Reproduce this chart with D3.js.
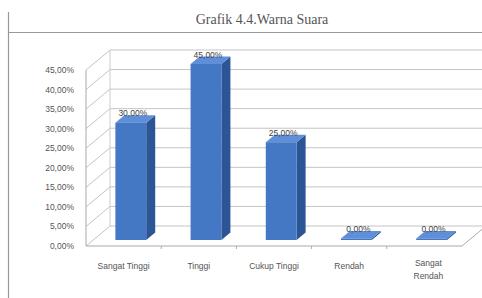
<!DOCTYPE html>
<html>
<head>
<meta charset="utf-8">
<script src="https://cdn.jsdelivr.net/npm/d3@7"></script>
<style>
body { margin: 0; background: #fff; }
.sans { font-family: "Liberation Sans", Arial, sans-serif; }
.serif { font-family: "Liberation Serif", "DejaVu Serif", serif; }
</style>
</head>
<body>
<svg id="chart" width="482" height="298"></svg>
<script>
var categories = ["Sangat Tinggi", "Tinggi", "Cukup Tinggi", "Rendah", "Sangat Rendah"];
var values = [30, 45, 25, 0, 0];
var valueLabels = ["30,00%", "45,00%", "25,00%", "0,00%", "0,00%"];
var yTicks = [0, 5, 10, 15, 20, 25, 30, 35, 40, 45];

// depth of the 3d box
var dx = 24, dy = -20;
var f0 = 0.3, f1 = 0.675;

var svg = d3.select("#chart");

// frame lines of the page
svg.append("line").attr("x1", 8.5).attr("y1", 12).attr("x2", 8.5).attr("y2", 298)
    .style("stroke", "#999").style("stroke-width", 1.2);
svg.append("line").attr("x1", 8).attr("y1", 32.5).attr("x2", 482).attr("y2", 32.5)
    .style("stroke", "#999").style("stroke-width", 1.2);
svg.append("text").attr("class", "serif").attr("x", 262).attr("y", 24).attr("text-anchor", "middle")
    .style("font-size", "14px").style("fill", "#555").text("Grafik 4.4.Warna Suara");

var y = d3.scaleLinear().domain([0, 45]).range([246, 70]);
var x = d3.scaleBand().domain(categories).range([86, 462]);

var grid = svg.append("g");
yTicks.forEach(function (t) {
    var yy = y(t);
    grid.append("polyline")
        .attr("points", [[86, yy], [86 + dx, yy + dy], [486, yy + dy]].map(function (p) { return p.join(","); }).join(" "))
        .style("fill", "none").style("stroke", "#c4c4c4").style("stroke-width", 1);
});
// left edges and floor
grid.append("line").attr("x1", 86).attr("y1", y(0)).attr("x2", 86).attr("y2", y(45))
    .style("stroke", "#aaa");
grid.append("line").attr("x1", 86 + dx).attr("y1", y(0) + dy).attr("x2", 86 + dx).attr("y2", y(45) + dy)
    .style("stroke", "#ccc");
grid.append("polyline")
    .attr("points", "86," + y(0) + " 462," + y(0) + " " + (462 + dx) + "," + (y(0) + dy))
    .style("fill", "none").style("stroke", "#aaa");

// ticks on the floor
categories.forEach(function (c, i) {
    if (i == 0) return;
    var xx = x(c);
    svg.append("line").attr("x1", xx).attr("y1", y(0)).attr("x2", xx).attr("y2", y(0) + 3)
        .style("stroke", "#aaa");
});

// y axis labels
yTicks.forEach(function (t) {
    svg.append("text").attr("class", "sans").attr("x", 74).attr("y", y(t) + 3).attr("text-anchor", "end")
        .style("font-size", "8.5px").style("fill", "#555")
        .text(t.toFixed(2).replace(".", ",") + "%");
});

// bars
var bw = x.bandwidth() * 0.41;
var bars = svg.append("g");
function pts(arr) { return arr.map(function (p) { return p[0] + "," + p[1]; }).join(" "); }
categories.forEach(function (c, i) {
    var cx = x(c) + x.bandwidth() / 2;
    var xl = cx - bw / 2 + f0 * dx, xr = cx + bw / 2 + f0 * dx;
    var yb = y(0) + f0 * dy, yt = y(values[i]) + f0 * dy;
    if (values[i] == 0) yt = yb - 1.5;
    var ddx = (f1 - f0) * dx, ddy = (f1 - f0) * dy;
    // side
    bars.append("polygon").attr("points", pts([[xr, yt], [xr + ddx, yt + ddy], [xr + ddx, yb + ddy], [xr, yb]]))
        .style("fill", "#2c5596");
    // top
    bars.append("polygon").attr("points", pts([[xl, yt], [xl + ddx, yt + ddy], [xr + ddx, yt + ddy], [xr, yt]]))
        .style("fill", "#5f8fd8");
    // front
    bars.append("rect").attr("x", xl).attr("y", yt).attr("width", bw).attr("height", yb - yt)
        .style("fill", "#4477c4");
    // value label
    svg.append("text").attr("class", "sans").attr("x", cx + f0 * dx + 2).attr("y", yt + ddy + 1).attr("text-anchor", "middle")
        .style("font-size", "8.5px").style("fill", "#444").text(valueLabels[i]);
});

// category labels
categories.forEach(function (c, i) {
    var cx = x(c) + x.bandwidth() / 2;
    var t = svg.append("text").attr("class", "sans").attr("x", cx).attr("y", 269).attr("text-anchor", "middle")
        .style("font-size", "8.5px").style("fill", "#555");
    if (c == "Sangat Rendah") {
        t.attr("y", 266);
        t.append("tspan").attr("x", cx + 4).text("Sangat");
        t.append("tspan").attr("x", cx + 4).attr("dy", 13).text("Rendah");
    } else {
        t.text(c);
    }
});
</script>
</body>
</html>
